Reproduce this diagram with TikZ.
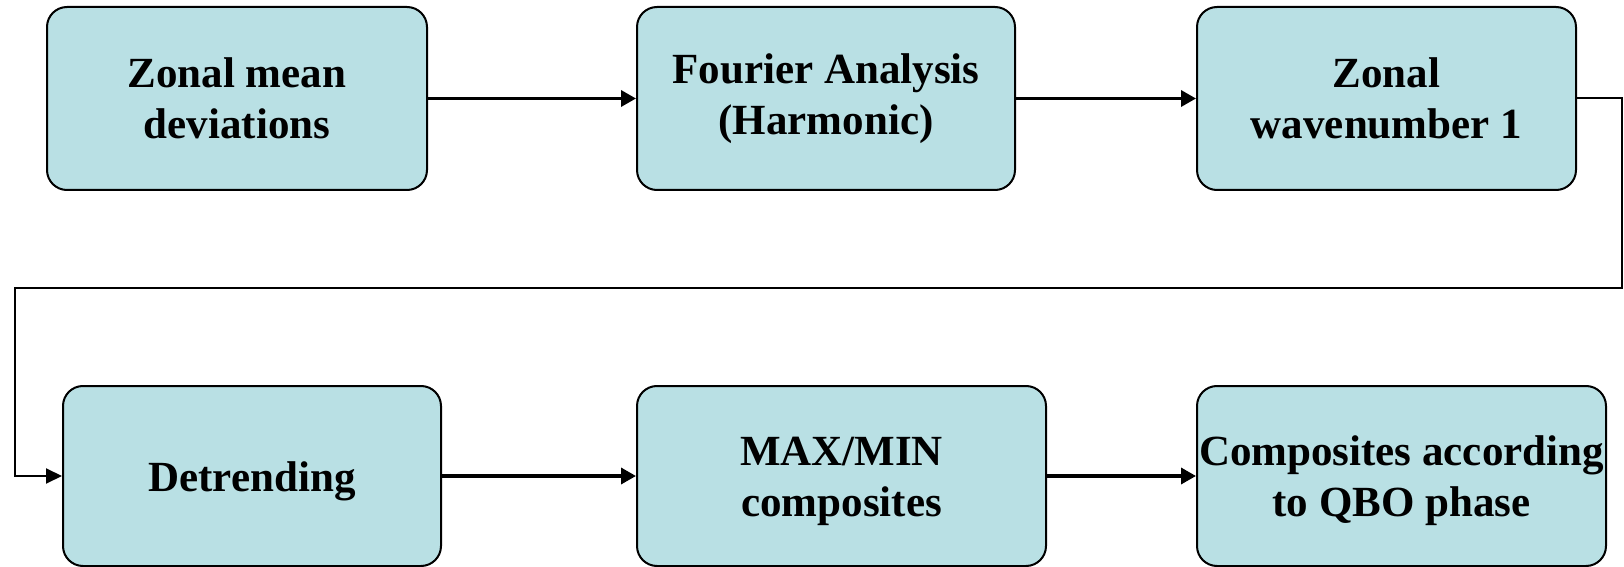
\documentclass[tikz,border=0pt]{standalone}
\usepackage{fontspec}
\setmainfont{Liberation Serif}
\usetikzlibrary{arrows.meta}
\definecolor{boxfill}{RGB}{185,224,228}

\begin{document}
\begin{tikzpicture}[x=0.5pt,y=-0.5pt]
        \useasboundingbox (0,0) rectangle (1624,567);

        \begin{scope}[every node/.style={draw,rectangle,rounded corners=10pt,fill=boxfill,
            line width=1pt,inner sep=0pt,align=center,
            font=\fontsize{21.5pt}{25.5pt}\selectfont\bfseries}]
          \node[minimum width=190pt,minimum height=91.5pt] (zonal)   at (237,98.5)   {Zonal mean\\deviations};
          \node[minimum width=189pt,minimum height=91.5pt] (fourier) at (826,98.5)   {Fourier Analysis\\(Harmonic)};
          \node[minimum width=189.5pt,minimum height=91.5pt] (wave)  at (1386.5,98.5) {Zonal\\wavenumber 1};
        \end{scope}
        \begin{scope}[every node/.style={draw,rectangle,rounded corners=10pt,fill=boxfill,
            line width=1pt,inner sep=0pt,align=center,text height=45.5pt,minimum height=90pt,
            font=\fontsize{21.5pt}{25.5pt}\selectfont\bfseries}]
          \node[minimum width=189pt,text height=20pt] (detrend) at (252,476) {Detrending};
          \node[minimum width=204.5pt] (maxmin)  at (841.5,476)  {MAX/MIN\\composites};
          \node[minimum width=204.5pt] (qbo)     at (1401.5,476) {Composites according\\to QBO phase};
        \end{scope}

        \begin{scope}[line width=1.7pt,-{Triangle[length=7.5pt,width=8pt]}]
          \draw (zonal)   -- (fourier);
          \draw (fourier) -- (wave);
          \draw (detrend) -- (maxmin);
          \draw (maxmin)  -- (qbo);
        \end{scope}

        \draw[line width=1pt,-{Triangle[length=8pt,width=7.5pt]}]
          (wave.east) -- (1622,98.5) -- (1622,288) -- (15,288) -- (15,|-detrend.west) -- (detrend.west);

      \end{tikzpicture}
\end{document}
